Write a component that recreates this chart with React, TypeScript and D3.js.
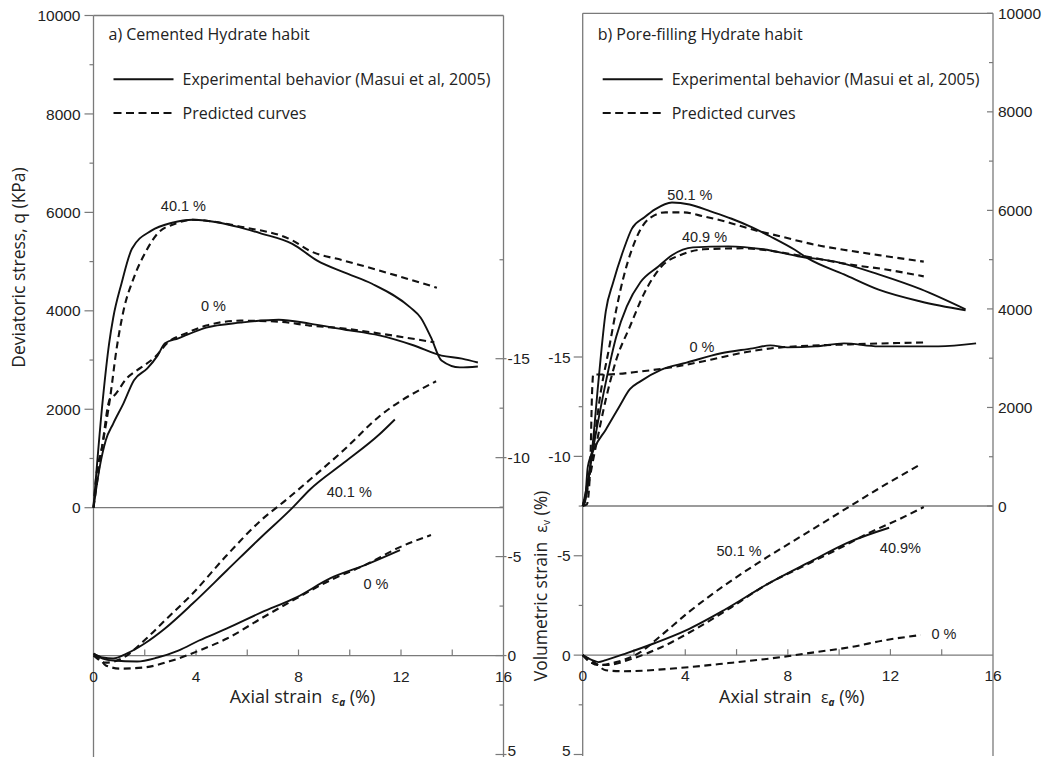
import React, { useEffect, useRef } from 'react';
import * as d3 from 'd3';

type Pt = [number, number];

// axial strain (%) vs deviatoric stress q (kPa) / volumetric strain (%)
// a) cemented hydrate habit
const aQExp401: Pt[] = [[0, 0], [0.36, 2180], [0.61, 3340], [0.77, 3860], [1.09, 4550], [1.5, 5260], [2.26, 5630], [3.07, 5790], [3.88, 5850], [4.93, 5790], [5.74, 5690], [6.55, 5570], [7.76, 5360], [8.73, 5020], [9.78, 4780], [10.87, 4550], [12.36, 4070], [12.77, 3860], [13.17, 3460], [13.58, 2990], [14.3, 2850], [15.0, 2870]];
const aQPred401: Pt[] = [[0, 0], [0.08, 500], [0.36, 1310], [0.65, 2240], [0.89, 3190], [1.17, 4000], [1.58, 4680], [2.06, 5220], [2.5, 5570], [3.19, 5770], [3.88, 5850], [4.4, 5830], [5.74, 5710], [7.76, 5430], [8.44, 5220], [9.78, 5020], [11.15, 4820], [13.4, 4470]];
const aQExp0: Pt[] = [[0, 0], [0.24, 820], [0.48, 1370], [0.77, 1710], [1.17, 2120], [1.58, 2590], [2.1, 2830], [2.5, 3090], [2.79, 3340], [3.31, 3440], [4.4, 3660], [5.74, 3760], [7.23, 3820], [8.44, 3740], [9.78, 3620], [11.15, 3500], [12.48, 3300], [13.58, 3090], [14.38, 3030], [15.0, 2950]];
const aQPred0: Pt[] = [[0, 0], [0.32, 1170], [0.65, 2220], [0.77, 2260], [1.3, 2630], [1.86, 2850], [2.38, 3050], [2.91, 3360], [3.6, 3540], [4.4, 3700], [5.74, 3800], [7.23, 3780], [8.44, 3700], [9.78, 3640], [11.15, 3540], [13.3, 3360]];
const aEvExp401: Pt[] = [[0, -0.1], [0.36, 0.1], [0.77, 0.15], [1.29, -0.1], [1.98, -0.6], [2.79, -1.37], [3.88, -2.64], [5.21, -4.31], [6.55, -5.99], [7.76, -7.46], [8.44, -8.38], [9.78, -9.75], [11.15, -11.17], [11.76, -11.93]];
const aEvPred401: Pt[] = [[0, 0], [0.48, 0.36], [1.17, 0.1], [1.98, -0.76], [2.79, -1.78], [3.88, -3.15], [5.21, -5.08], [6.55, -6.85], [7.52, -7.87], [8.44, -8.88], [9.78, -10.4], [11.15, -12.08], [13.37, -13.86]];
const aEvExp0: Pt[] = [[0, -0.1], [0.36, 0.15], [0.77, 0.25], [1.7, 0.3], [2.5, 0.1], [3.31, -0.25], [4.12, -0.76], [5.21, -1.37], [6.55, -2.18], [7.92, -2.94], [9.25, -3.91], [10.59, -4.57], [11.96, -5.33]];
const aEvPred0: Pt[] = [[0, 0], [0.24, 0.15], [0.48, 0.5], [1.05, 0.66], [1.98, 0.6], [3.07, 0.25], [4.12, -0.25], [5.21, -0.86], [6.55, -1.88], [7.92, -2.89], [9.25, -3.81], [10.59, -4.57], [11.96, -5.48], [13.17, -6.09]];

// b) pore-filling hydrate habit
const bQExp501: Pt[] = [[0, 0], [0.08, 70], [0.37, 1150], [0.61, 2510], [0.9, 3950], [1.19, 4540], [1.6, 5210], [1.92, 5630], [2.41, 5860], [2.82, 6020], [3.48, 6160], [4.17, 6120], [4.99, 5980], [5.81, 5830], [6.63, 5650], [7.32, 5470], [8.27, 5200], [8.8, 5020], [10.19, 4700], [11.54, 4390], [13.18, 4150], [14.93, 3970]];
const bQPred501: Pt[] = [[0, 0], [0.08, 130], [0.37, 1010], [0.7, 2300], [1.02, 3180], [1.31, 3990], [1.6, 4660], [1.92, 5210], [2.25, 5610], [2.66, 5860], [3.23, 5960], [3.89, 5960], [4.71, 5880], [5.52, 5780], [6.63, 5610], [7.73, 5470], [9.08, 5300], [10.43, 5180], [11.83, 5070], [13.3, 4960]];
const bQExp409: Pt[] = [[0, 0], [0.08, 190], [0.49, 1410], [0.9, 2510], [1.31, 3440], [1.72, 4050], [2.25, 4540], [2.95, 4860], [3.48, 5090], [4.3, 5250], [5.69, 5270], [7.04, 5210], [8.39, 5070], [10.02, 4940], [11.54, 4700], [13.18, 4400], [14.93, 3990]];
const bQPred409: Pt[] = [[0, 0], [0.08, 130], [0.49, 1150], [0.9, 2160], [1.31, 2970], [1.84, 3640], [2.41, 4330], [3.07, 4860], [3.89, 5110], [4.71, 5210], [6.22, 5230], [8.39, 5090], [10.43, 4900], [11.83, 4800], [13.3, 4660]];
const bQExp0: Pt[] = [[0, 0], [0.08, 70], [0.2, 800], [0.49, 1210], [0.9, 1550], [1.43, 2020], [1.84, 2370], [2.25, 2530], [3.07, 2770], [4.05, 2910], [5.4, 3100], [6.63, 3200], [7.32, 3260], [7.98, 3220], [9.08, 3240], [10.19, 3300], [11.54, 3240], [13.87, 3240], [15.34, 3300]];
const bQPred0: Pt[] = [[0, 0], [0.16, 30], [0.29, 740], [0.37, 2370], [0.41, 2670], [0.9, 2670], [2.25, 2730], [3.64, 2830], [4.99, 2970], [6.34, 3120], [7.73, 3220], [10.43, 3280], [13.3, 3320]];
const bEvExp409: Pt[] = [[0, 0], [0.37, 0.25], [0.61, 0.35], [0.9, 0.25], [1.72, -0.1], [2.82, -0.61], [4.05, -1.26], [5.52, -2.27], [7.16, -3.54], [8.8, -4.65], [10.43, -5.71], [11.95, -6.41]];
const bEvPred409: Pt[] = [[0, 0], [0.37, 0.4], [0.9, 0.5], [2.0, 0.15], [3.07, -0.4], [4.46, -1.36], [5.81, -2.42], [7.16, -3.54], [8.55, -4.44], [9.9, -5.3], [11.25, -6.2], [12.36, -6.85], [13.3, -7.45]];
const bEvPred501: Pt[] = [[0, 0], [0.61, 0.5], [1.31, 0.35], [2.25, -0.15], [3.07, -1.0], [4.17, -2.2], [5.52, -3.5], [7.16, -4.9], [8.8, -6.2], [10.43, -7.5], [11.83, -8.6], [13.18, -9.6]];
const bEvPred0: Pt[] = [[0, 0], [0.49, 0.4], [0.9, 0.76], [1.6, 0.81], [3.64, 0.66], [5.69, 0.4], [7.73, 0.1], [9.08, -0.15], [10.43, -0.4], [11.83, -0.76], [13.18, -1.01]];

const strainTicks = [0, 4, 8, 12, 16];
const strainMinor = [2, 6, 10, 14];
const qTicks = [0, 2000, 4000, 6000, 8000, 10000];
const qMinor = [1000, 3000, 5000, 7000, 9000];
const evTicks = [-15, -10, -5, 0, 5];
const evMinor = [-12.5, -7.5, -2.5, 2.5];

const legendLabels = ['Experimental behavior (Masui et al, 2005)', 'Predicted curves'];

type Curve = { pts: Pt[]; kind: 'q' | 'ev'; dashed: boolean };
type Note = { text: string; x: number; v: number; kind: 'q' | 'ev' };

const aCurves: Curve[] = [
  { pts: aQExp401, kind: 'q', dashed: false },
  { pts: aQPred401, kind: 'q', dashed: true },
  { pts: aQExp0, kind: 'q', dashed: false },
  { pts: aQPred0, kind: 'q', dashed: true },
  { pts: aEvExp401, kind: 'ev', dashed: false },
  { pts: aEvPred401, kind: 'ev', dashed: true },
  { pts: aEvExp0, kind: 'ev', dashed: false },
  { pts: aEvPred0, kind: 'ev', dashed: true },
];
const bCurves: Curve[] = [
  { pts: bQExp501, kind: 'q', dashed: false },
  { pts: bQPred501, kind: 'q', dashed: true },
  { pts: bQExp409, kind: 'q', dashed: false },
  { pts: bQPred409, kind: 'q', dashed: true },
  { pts: bQExp0, kind: 'q', dashed: false },
  { pts: bQPred0, kind: 'q', dashed: true },
  { pts: bEvExp409, kind: 'ev', dashed: false },
  { pts: bEvPred409, kind: 'ev', dashed: true },
  { pts: bEvPred501, kind: 'ev', dashed: true },
  { pts: bEvPred0, kind: 'ev', dashed: true },
];
const aNotes: Note[] = [
  { text: '40.1 %', x: 3.51, v: 6130, kind: 'q' },
  { text: '0 %', x: 4.68, v: 4100, kind: 'q' },
  { text: '40.1 %', x: 9.98, v: -8.26, kind: 'ev' },
  { text: '0 %', x: 11.02, v: -3.65, kind: 'ev' },
];
const bNotes: Note[] = [
  { text: '50.1 %', x: 4.18, v: 6310, kind: 'q' },
  { text: '40.9 %', x: 4.75, v: 5460, kind: 'q' },
  { text: '0 %', x: 4.65, v: 3230, kind: 'q' },
  { text: '50.1 %', x: 6.1, v: -5.23, kind: 'ev' },
  { text: '40.9%', x: 12.39, v: -5.42, kind: 'ev' },
  { text: '0 %', x: 14.09, v: -1.05, kind: 'ev' },
];

const AXIS = '#7a7a7a';
const NUM_FONT = '"Liberation Sans", Arial, sans-serif';
const TXT_FONT = '"Open Sans", sans-serif';

type Panel = {
  title: string;
  x0: number; x1: number; top: number; bottom: number;
  q0: number; evTop: number; evBottom: number;
  qSide: 'left' | 'right';
  curves: Curve[]; notes: Note[];
};

const panels: Panel[] = [
  { title: 'a) Cemented Hydrate habit', x0: 93.5, x1: 503.5, top: 15.5, bottom: 757, q0: 507.7, evTop: 358.7, evBottom: 754.5, qSide: 'left', curves: aCurves, notes: aNotes },
  { title: 'b) Pore-filling Hydrate habit', x0: 582.7, x1: 993, top: 13.3, bottom: 756, q0: 506, evTop: 357, evBottom: 754.5, qSide: 'right', curves: bCurves, notes: bNotes },
];

function hLine(g: any, x1: number, x2: number, y: number) {
  g.append('line').attr('x1', x1).attr('x2', x2).attr('y1', y).attr('y2', y)
    .attr('stroke', AXIS).attr('stroke-width', 1.3);
}
function vLine(g: any, x: number, y1: number, y2: number) {
  g.append('line').attr('x1', x).attr('x2', x).attr('y1', y1).attr('y2', y2)
    .attr('stroke', AXIS).attr('stroke-width', 1.3);
}
function vTicks(g: any, vals: number[], y: any, x: number, a: number, b: number) {
  g.append('g').selectAll('line').data(vals).join('line')
    .attr('x1', x + a).attr('x2', x + b)
    .attr('y1', (d: number) => y(d)).attr('y2', (d: number) => y(d))
    .attr('stroke', AXIS).attr('stroke-width', 1.2);
}
function vLabels(g: any, vals: number[], y: any, x: number, anchor: string) {
  g.append('g').selectAll('text').data(vals).join('text')
    .attr('x', x).attr('y', (d: number) => Math.min(y(d), 750)).attr('dy', '0.36em')
    .attr('text-anchor', anchor)
    .attr('font-family', NUM_FONT).attr('font-size', 15.5).attr('fill', '#222')
    .text((d: number) => String(d));
}

function drawPanel(svg: any, p: Panel) {
  const g = svg.append('g');
  const x = d3.scaleLinear().domain([0, 16]).range([p.x0, p.x1]);
  const q = d3.scaleLinear().domain([0, 10000]).range([p.q0, p.top]);
  const ev = d3.scaleLinear().domain([-15, 5]).range([p.evTop, p.evBottom]);

  // frame
  hLine(g, p.x0, p.x1, p.top);
  vLine(g, p.x0, p.top, p.bottom);
  vLine(g, p.x1, p.top, p.bottom);
  hLine(g, p.x0, p.x1, p.q0);
  hLine(g, p.x0, p.x1, ev(0));

  // strain axis ticks pointing up from ev = 0
  g.append('g').selectAll('line').data([...strainTicks.slice(1, 4), ...strainMinor]).join('line')
    .attr('x1', (d: number) => x(d)).attr('x2', (d: number) => x(d))
    .attr('y1', ev(0)).attr('y2', ev(0) - 6)
    .attr('stroke', AXIS).attr('stroke-width', 1.2);
  g.append('g').selectAll('text').data(strainTicks).join('text')
    .attr('x', (d: number) => x(d)).attr('y', ev(0) + 26)
    .attr('text-anchor', 'middle')
    .attr('font-family', NUM_FONT).attr('font-size', 15.5).attr('fill', '#222')
    .text((d: number) => String(d));

  if (p.qSide === 'left') {
    vTicks(g, qTicks, q, p.x0, -9, 0);
    vTicks(g, qMinor, q, p.x0, -4, 0);
    vLabels(g, qTicks, q, p.x0 - 13, 'end');
    vTicks(g, evTicks, ev, p.x1, -8, 3);
    vTicks(g, [-20, ...evMinor], ev, p.x1, -4, 0);
    vLabels(g, evTicks, ev, p.x1 + 4, 'start');
  } else {
    vTicks(g, evTicks, ev, p.x0, -9, 0);
    vTicks(g, evMinor, ev, p.x0, -4, 0);
    vLabels(g, evTicks, ev, p.x0 - 12, 'end');
    vTicks(g, qTicks, q, p.x1, -6, 0);
    vTicks(g, qMinor, q, p.x1, -4, 0);
    vLabels(g, qTicks, q, p.x1 + 5, 'start');
  }

  // curves
  const lineQ = d3.line<Pt>().x(d => x(d[0])).y(d => q(d[1])).curve(d3.curveMonotoneX);
  const lineEv = d3.line<Pt>().x(d => x(d[0])).y(d => ev(d[1])).curve(d3.curveMonotoneX);
  g.append('g').selectAll('path').data(p.curves).join('path')
    .attr('d', (c: Curve) => (c.kind === 'q' ? lineQ : lineEv)(c.pts))
    .attr('fill', 'none').attr('stroke', '#111')
    .attr('stroke-width', (c: Curve) => (c.dashed ? 2.1 : 1.9))
    .attr('stroke-dasharray', (c: Curve) => (c.dashed ? '7,4.5' : null))
    .attr('stroke-linejoin', 'round');

  // curve annotations
  g.append('g').selectAll('text').data(p.notes).join('text')
    .attr('x', (n: Note) => x(n.x))
    .attr('y', (n: Note) => (n.kind === 'q' ? q(n.v) : ev(n.v)))
    .attr('dy', '0.36em').attr('text-anchor', 'middle')
    .attr('font-family', NUM_FONT).attr('font-size', 14.5).attr('fill', '#222')
    .text((n: Note) => n.text);

  // title + legend
  const lx = p.x0 + 15;
  g.append('text').attr('x', lx).attr('y', 40)
    .attr('font-family', TXT_FONT).attr('font-size', 16).attr('fill', '#222')
    .text(p.title);
  legendLabels.forEach((lab, i) => {
    const y = i === 0 ? 79.3 : 113;
    g.append('line').attr('x1', p.x0 + 20).attr('x2', p.x0 + 80).attr('y1', y).attr('y2', y)
      .attr('stroke', '#111').attr('stroke-width', 2)
      .attr('stroke-dasharray', i === 0 ? null : '8,4.5');
    g.append('text').attr('x', p.x0 + 89).attr('y', y + 5.5)
      .attr('font-family', TXT_FONT).attr('font-size', 16).attr('fill', '#222')
      .text(lab);
  });

  // x axis title
  const t = g.append('text').attr('x', (p.x0 + p.x1) / 2 + 4).attr('y', 703)
    .attr('text-anchor', 'middle')
    .attr('font-family', TXT_FONT).attr('font-size', 18).attr('fill', '#222');
  t.append('tspan').text('Axial strain\u00a0 ');
  t.append('tspan').attr('font-size', 16).text('ε');
  t.append('tspan').attr('font-size', 10).attr('font-weight', 'bold').attr('font-style', 'italic').attr('dy', 3).text('a');
  t.append('tspan').attr('dy', -3).text('\u00a0(%)');
}

export default function App() {
  const svgRef = useRef<SVGSVGElement>(null);

  useEffect(() => {
    if (!svgRef.current) return;
    document.body.style.margin = '0';
    const svg = d3.select(svgRef.current);
    svg.selectAll('*').remove();

    panels.forEach(p => drawPanel(svg, p));

    // y axis titles
    svg.append('text')
      .attr('transform', 'translate(25,267.5) rotate(-90)')
      .attr('text-anchor', 'middle')
      .attr('font-family', TXT_FONT).attr('font-size', 17.5).attr('fill', '#222')
      .text('Deviatoric stress, q (KPa)');

    const vt = svg.append('text')
      .attr('transform', 'translate(546.5,586) rotate(-90)')
      .attr('text-anchor', 'middle')
      .attr('font-family', TXT_FONT).attr('font-size', 17.5).attr('fill', '#222');
    vt.append('tspan').text('Volumetric strain\u00a0 ');
    vt.append('tspan').attr('font-size', 16).text('ε');
    vt.append('tspan').attr('font-size', 10).attr('dy', 3).text('v');
    vt.append('tspan').attr('dy', -3).text(' (%)');
  }, []);

  return <svg ref={svgRef} width={1049} height={762} style={{ display: 'block', background: '#fff' }} />;
}
